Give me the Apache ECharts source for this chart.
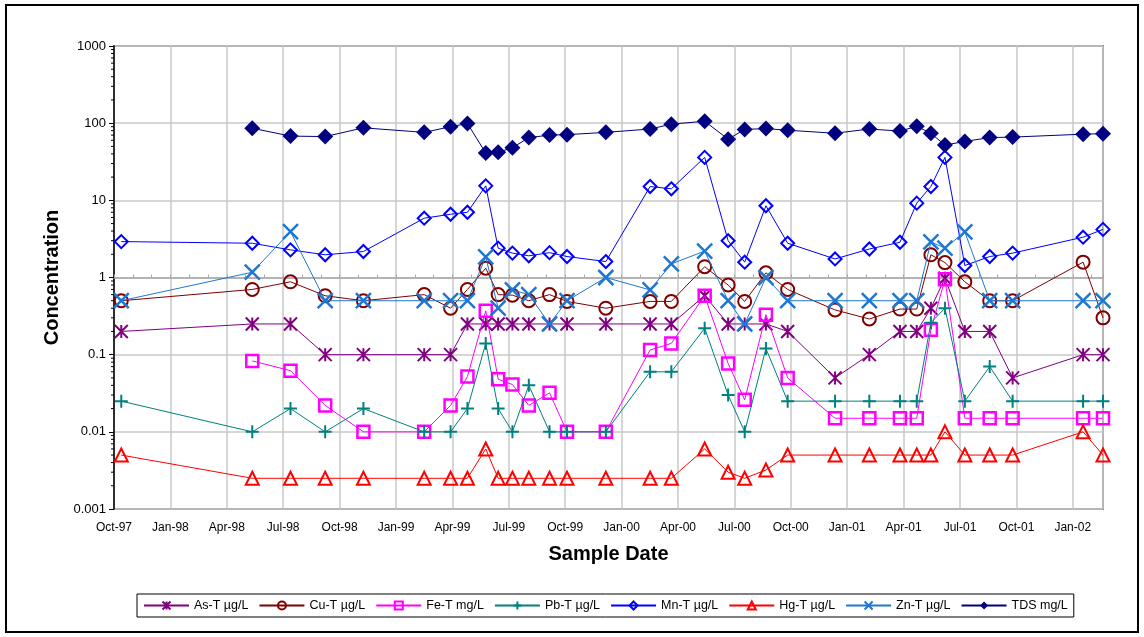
<!DOCTYPE html>
<html><head><meta charset="utf-8">
<script src="https://cdn.jsdelivr.net/npm/echarts@6/dist/echarts.min.js"></script>
<style>html,body{margin:0;padding:0;background:#fff}#c{width:1144px;height:637px}</style>
</head><body><div id="c"></div>
<script>
// Sample dates
const sampleDates = ['1997-10-13','1998-05-12','1998-07-13','1998-09-08','1998-11-09','1999-02-15','1999-03-29','1999-04-25','1999-05-25','1999-06-14','1999-07-07','1999-08-03','1999-09-06','1999-10-04','1999-12-06','2000-02-16','2000-03-21','2000-05-14','2000-06-21','2000-07-18','2000-08-22','2000-09-26','2000-12-12','2001-02-06','2001-03-26','2001-04-22','2001-05-15','2001-06-07','2001-07-09','2001-08-19','2001-09-25','2002-01-18','2002-02-18'];

const seriesNames = ['As-T µg/L','Cu-T µg/L','Fe-T mg/L','Pb-T µg/L','Mn-T µg/L','Hg-T µg/L','Zn-T µg/L','TDS mg/L'];

const asT = [0.2,0.25,0.25,0.1,0.1,0.1,0.1,0.25,0.25,0.25,0.25,0.25,0.25,0.25,0.25,0.25,0.25,0.58,0.25,0.25,0.25,0.2,0.05,0.1,0.2,0.2,0.4,0.98,0.2,0.2,0.05,0.1,0.1];
const cuT = [0.5,0.7,0.88,0.58,0.5,0.6,0.4,0.7,1.32,0.6,0.59,0.5,0.6,0.49,0.4,0.49,0.49,1.38,0.8,0.49,1.15,0.7,0.38,0.29,0.39,0.39,1.97,1.56,0.88,0.5,0.5,1.58,0.3];
const feT = [null,0.083,0.062,0.022,0.01,0.01,0.022,0.052,0.37,0.048,0.041,0.022,0.032,0.01,0.01,0.115,0.14,0.58,0.077,0.026,0.33,0.05,0.015,0.015,0.015,0.015,0.21,0.95,0.015,0.015,0.015,0.015,0.015];
const pbT = [0.025,0.01,0.02,0.01,0.02,0.01,0.01,0.02,0.14,0.02,0.01,0.04,0.01,0.01,0.01,0.06,0.06,0.22,0.03,0.01,0.12,0.025,0.025,0.025,0.025,0.025,0.26,0.4,0.025,0.07,0.025,0.025,0.025];
const mnT = [2.92,2.78,2.28,1.97,2.17,5.87,6.6,7.0,15.4,2.4,2.07,1.91,2.1,1.87,1.61,15.1,14.1,36,3.0,1.58,8.5,2.78,1.74,2.34,2.86,9.2,15.1,36,1.43,1.87,2.07,3.33,4.2];
const hgT = [0.005,0.0025,0.0025,0.0025,0.0025,0.0025,0.0025,0.0025,0.006,0.0025,0.0025,0.0025,0.0025,0.0025,0.0025,0.0025,0.0025,0.006,0.003,0.0025,0.0032,0.005,0.005,0.005,0.005,0.005,0.005,0.01,0.005,0.005,0.005,0.01,0.005];
const znT = [0.5,1.17,3.93,0.5,0.5,0.5,0.5,0.5,1.85,0.4,0.69,0.6,0.25,0.5,1.0,0.69,1.5,2.2,0.5,0.25,1.0,0.5,0.5,0.5,0.5,0.5,2.9,2.4,3.9,0.5,0.5,0.5,0.5];
const tds = [null,86,68,67,87,76,90,99,41,42,48,65,70,71,76,84,97,106,62,83,85,81,74,84,79,91,74,52,58,65,66,72,73];

const yTickValues = [0.001,0.01,0.1,1,10,100,1000];
const MONTHS = ['Jan','Feb','Mar','Apr','May','Jun','Jul','Aug','Sep','Oct','Nov','Dec'];

const FONT = '"Liberation Sans", Arial, Helvetica, sans-serif';

function monthIndex(s){
  const p = s.split('-').map(Number);
  const dim = new Date(Date.UTC(p[0], p[1], 0)).getUTCDate();
  return (p[0]-1997)*12 + (p[1]-10) + (p[2]-1)/dim;
}
const xs = sampleDates.map(monthIndex);
function xLabel(v){
  const t = Math.round(v) + 9;
  return MONTHS[((t%12)+12)%12] + '-' + String((1997 + Math.floor(t/12)) % 100).padStart(2,'0');
}

const gridLeft = 114, gridTop = 46, gridW = 989, gridH = 463;
const yMin = yTickValues[0], yMax = yTickValues[yTickValues.length-1];
const crossOffset = -gridH * (Math.log10(1) - Math.log10(yMin)) / (Math.log10(yMax) - Math.log10(yMin));

const P_AST = 'path://M0,0L10,10M10,0L0,10M5,0L5,10';
const P_PLUS = 'path://M5,0L5,10M0,5L10,5';
const P_X = 'path://M0,0L10,10M10,0L0,10';

const styles = [
  {vals: asT, color:'#800080', symbol:P_AST, size:13, open:true, bw:2},
  {vals: cuT, color:'#800000', symbol:'circle', size:13, open:true, bw:2},
  {vals: feT, color:'#FF00FF', symbol:'rect', size:12, open:true, bw:2.5},
  {vals: pbT, color:'#008080', symbol:P_PLUS, size:13, open:true, bw:2},
  {vals: mnT, color:'#0000FF', symbol:'diamond', size:13, open:true, bw:2},
  {vals: hgT, color:'#FF0000', symbol:'triangle', size:13, open:true, bw:2},
  {vals: znT, color:'#1e78d2', symbol:P_X, size:15, open:true, bw:2.5},
  {vals: tds, color:'#000080', symbol:'diamond', size:16, open:false, bw:0}
];

const series = styles.map((s, k) => ({
  name: seriesNames[k],
  type: 'line',
  xAxisIndex: 0,
  yAxisIndex: 0,
  data: xs.map((x, i) => [x, s.vals[i] == null ? '-' : s.vals[i]]),
  symbol: s.symbol,
  symbolSize: s.size,
  showAllSymbol: true,
  lineStyle: {color: s.color, width: 1},
  itemStyle: s.open ? {color: 'rgba(255,255,255,0)', borderColor: s.color, borderWidth: s.bw}
                    : {color: s.color, borderColor: s.color, borderWidth: 0},
  emphasis: {disabled: true},
  z: 3 + k
}));

const chart = echarts.init(document.getElementById('c'), null, {renderer: 'canvas'});
const option = {
  animation: false,
  backgroundColor: '#fff',
  textStyle: {fontFamily: FONT},
  grid: {left: gridLeft, top: gridTop, width: gridW, height: gridH, show: true,
         borderColor: '#808080', borderWidth: 2, backgroundColor: '#fff'},
  xAxis: [{
    type: 'value', min: 0, max: xs[xs.length-1], interval: 3, position: 'bottom',
    axisLine: {show: false}, axisTick: {show: false},
    axisLabel: {formatter: xLabel, showMaxLabel: false, margin: 13, fontSize: 12, color: '#000', fontFamily: FONT},
    splitLine: {show: true, lineStyle: {color: '#c8c8c8', width: 1.5}},
    name: 'Sample Date', nameLocation: 'middle', nameGap: 35,
    nameTextStyle: {fontSize: 20, fontWeight: 'bold', color: '#000', fontFamily: FONT}
  }, {
    type: 'value', min: 0, max: xs[xs.length-1], interval: 3, position: 'bottom', offset: crossOffset,
    axisLine: {show: true, lineStyle: {color: '#a8a8a8', width: 1.5}},
    axisTick: {show: true, inside: true, length: 3, lineStyle: {color: '#a8a8a8', width: 1}},
    minorTick: {show: true, splitNumber: 3, length: 3, lineStyle: {color: '#a8a8a8', width: 1}},
    axisLabel: {show: false}, splitLine: {show: false}
  }],
  yAxis: [{
    type: 'log', logBase: 10, min: yMin, max: yMax,
    axisLine: {show: true, lineStyle: {color: '#000', width: 1.5}},
    axisTick: {show: true, length: 5, lineStyle: {color: '#000', width: 1}},
    axisLabel: {formatter: v => String(+(+v).toPrecision(6)), fontSize: 13, color: '#000', margin: 8, fontFamily: FONT},
    splitLine: {show: true, lineStyle: {color: '#c8c8c8', width: 1.5}},
    name: 'Concentration', nameLocation: 'middle', nameGap: 45,
    nameTextStyle: {fontSize: 20, fontWeight: 'bold', color: '#000', fontFamily: FONT}
  }],
  legend: {
    data: seriesNames, left: 137, top: 594, orient: 'horizontal',
    itemWidth: 45, itemHeight: 10, itemGap: 10, padding: [5, 6],
    borderColor: '#000', borderWidth: 1, backgroundColor: '#fff',
    textStyle: {fontSize: 12.5, color: '#000', fontFamily: FONT},
    selectedMode: false
  },
  graphic: [{
    id: 'frame', type: 'rect', shape: {x: 6, y: 5, width: 1132, height: 627},
    style: {fill: 'none', stroke: '#000', lineWidth: 2}, silent: true, z: 100
  }],
  series: series
};
chart.setOption(option);

// y-axis minor ticks at 2..9 × each decade, positioned by the axis scale
const minor = [];
for (let k = Math.log10(yMin); k < Math.log10(yMax); k++) {
  for (let m = 2; m <= 9; m++) {
    const y = chart.convertToPixel({yAxisIndex: 0}, m * Math.pow(10, k));
    minor.push({type: 'line', shape: {x1: gridLeft - 3, y1: y, x2: gridLeft, y2: y},
      style: {stroke: '#000', lineWidth: 1}, silent: true, z: 50});
  }
}
chart.setOption({graphic: [{id: 'frame', type: 'rect', shape: {x: 6, y: 5, width: 1132, height: 627},
    style: {fill: 'none', stroke: '#000', lineWidth: 2}, silent: true, z: 100}].concat(minor)});
</script>
</body></html>
